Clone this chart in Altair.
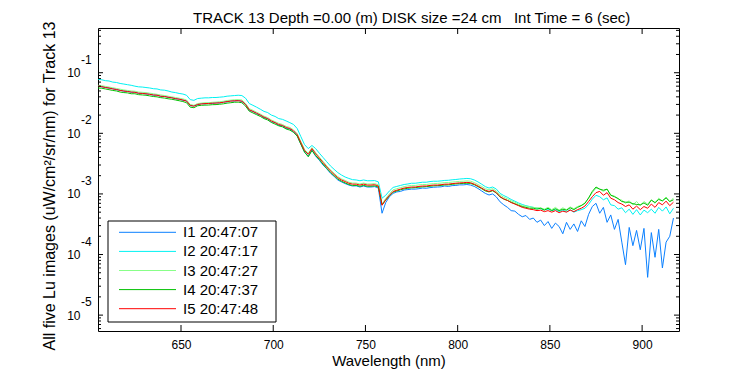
import altair as alt
import pandas as pd

# ---------------- data ----------------
wavelengths = list(range(605, 918, 2))  # nm, 2 nm steps

series_names = ["I1 20:47:07", "I2 20:47:17", "I3 20:47:27", "I4 20:47:37", "I5 20:47:48"]
series_colors = ["#0a80ff", "#00f2f2", "#88ff88", "#00c000", "#ff0000"]

i1 = [6.05e-2, 5.85e-2, 5.75e-2, 5.55e-2, 5.45e-2, 5.25e-2, 5.15e-2, 4.95e-2, 4.95e-2, 4.75e-2,
      4.8e-2, 4.55e-2, 4.6e-2, 4.45e-2, 4.45e-2, 4.25e-2, 4.3e-2, 4.05e-2, 4.1e-2, 3.9e-2,
      3.9e-2, 3.7e-2, 3.7e-2, 3.5e-2, 3.45e-2, 2.85e-2, 2.85e-2, 2.95e-2, 3.1e-2, 3.05e-2,
      3.15e-2, 3.1e-2, 3.2e-2, 3.15e-2, 3.3e-2, 3.3e-2, 3.45e-2, 3.4e-2, 3.5e-2, 3.35e-2,
      3.0e-2, 2.4e-2, 2.3e-2, 2.1e-2, 2.0e-2, 1.8e-2, 1.75e-2, 1.55e-2, 1.5e-2, 1.35e-2,
      1.33e-2, 1.2e-2, 1.18e-2, 1.06e-2, 9.2e-3, 6.6e-3, 4.9e-3, 4.2e-3, 5.3e-3, 4.2e-3,
      3.6e-3, 3.0e-3, 2.6e-3, 2.2e-3, 1.95e-3, 1.7e-3, 1.58e-3, 1.48e-3, 1.4e-3, 1.35e-3,
      1.36e-3, 1.3e-3, 1.35e-3, 1.3e-3, 1.3e-3, 1.32e-3, 1.25e-3, 4.8e-4, 7.2e-4, 9.0e-4,
      1.02e-3, 1.08e-3, 1.1e-3, 1.16e-3, 1.18e-3, 1.2e-3, 1.2e-3, 1.22e-3, 1.25e-3, 1.24e-3,
      1.27e-3, 1.29e-3, 1.3e-3, 1.31e-3, 1.35e-3, 1.33e-3, 1.37e-3, 1.38e-3, 1.41e-3, 1.41e-3,
      1.43e-3, 1.4e-3, 1.33e-3, 1.23e-3, 1.12e-3, 1.02e-3, 9.6e-4, 1.0e-3, 8.9e-4, 7.4e-4,
      6.6e-4, 6.0e-4, 5.3e-4, 5.2e-4, 4.6e-4, 4.2e-4, 4.4e-4, 3.8e-4, 4.0e-4, 3.4e-4,
      3.7e-4, 3.0e-4, 3.5e-4, 2.7e-4, 3.3e-4, 2.9e-4, 2.2e-4, 3.4e-4, 2.6e-4, 3.2e-4,
      2.4e-4, 3.6e-4, 2.9e-4, 4.6e-4, 6.2e-4, 7.0e-4, 4.8e-4, 6.0e-4, 3.4e-4, 4.5e-4,
      2.6e-4, 3.8e-4, 1.6e-4, 6.8e-5, 2.8e-4, 1.4e-4, 2.5e-4, 1.2e-4, 2.7e-4, 4.2e-5,
      2.3e-4, 9.0e-5, 2.6e-4, 6.0e-5, 1.6e-4, 2.0e-4, 4.0e-4]

i2 = [7.8e-2, 7.65e-2, 7.4e-2, 7.3e-2, 7.0e-2, 6.9e-2, 6.65e-2, 6.5e-2, 6.35e-2, 6.2e-2,
      6.0e-2, 5.85e-2, 5.8e-2, 5.7e-2, 5.6e-2, 5.45e-2, 5.4e-2, 5.2e-2, 5.15e-2, 5.0e-2,
      4.8e-2, 4.7e-2, 4.55e-2, 4.45e-2, 4.25e-2, 3.6e-2, 3.5e-2, 3.75e-2, 3.8e-2, 3.85e-2,
      3.85e-2, 3.9e-2, 3.9e-2, 3.95e-2, 4.0e-2, 4.1e-2, 4.15e-2, 4.2e-2, 4.25e-2, 4.2e-2,
      3.8e-2, 3.1e-2, 2.9e-2, 2.7e-2, 2.5e-2, 2.3e-2, 2.2e-2, 2.0e-2, 1.9e-2, 1.75e-2,
      1.7e-2, 1.6e-2, 1.5e-2, 1.4e-2, 1.2e-2, 8.8e-3, 6.5e-3, 5.6e-3, 6.3e-3, 5.6e-3,
      4.7e-3, 4.0e-3, 3.4e-3, 2.9e-3, 2.55e-3, 2.25e-3, 2.05e-3, 1.9e-3, 1.8e-3, 1.72e-3,
      1.7e-3, 1.65e-3, 1.7e-3, 1.65e-3, 1.65e-3, 1.66e-3, 1.58e-3, 8.5e-4, 9.5e-4, 1.12e-3,
      1.28e-3, 1.33e-3, 1.38e-3, 1.43e-3, 1.46e-3, 1.5e-3, 1.5e-3, 1.53e-3, 1.56e-3, 1.56e-3,
      1.6e-3, 1.62e-3, 1.62e-3, 1.64e-3, 1.67e-3, 1.68e-3, 1.71e-3, 1.73e-3, 1.76e-3, 1.78e-3,
      1.8e-3, 1.78e-3, 1.7e-3, 1.58e-3, 1.45e-3, 1.32e-3, 1.25e-3, 1.3e-3, 1.2e-3, 1.02e-3,
      9.4e-4, 8.8e-4, 8.1e-4, 7.6e-4, 7.1e-4, 6.7e-4, 6.4e-4, 6.2e-4, 6.0e-4, 5.8e-4,
      5.7e-4, 5.5e-4, 5.6e-4, 5.3e-4, 5.5e-4, 5.1e-4, 5.4e-4, 5.1e-4, 5.5e-4, 5.0e-4,
      5.3e-4, 5.5e-4, 5.8e-4, 6.7e-4, 8.2e-4, 9.5e-4, 9.0e-4, 8.0e-4, 8.6e-4, 6.6e-4,
      6.4e-4, 5.6e-4, 5.9e-4, 4.9e-4, 5.6e-4, 4.6e-4, 5.5e-4, 4.5e-4, 5.4e-4, 4.9e-4,
      5.6e-4, 4.8e-4, 6.0e-4, 5.2e-4, 6.1e-4, 4.7e-4, 5.8e-4]

i3 = [6.2e-2, 6.1e-2, 5.95e-2, 5.8e-2, 5.65e-2, 5.5e-2, 5.35e-2, 5.2e-2, 5.1e-2, 5.0e-2,
      4.95e-2, 4.8e-2, 4.75e-2, 4.7e-2, 4.6e-2, 4.5e-2, 4.4e-2, 4.3e-2, 4.2e-2, 4.1e-2,
      4.0e-2, 3.9e-2, 3.8e-2, 3.7e-2, 3.55e-2, 3.0e-2, 2.9e-2, 3.1e-2, 3.15e-2, 3.2e-2,
      3.2e-2, 3.25e-2, 3.28e-2, 3.32e-2, 3.38e-2, 3.48e-2, 3.53e-2, 3.58e-2, 3.6e-2, 3.55e-2,
      3.12e-2, 2.55e-2, 2.4e-2, 2.23e-2, 2.08e-2, 1.92e-2, 1.82e-2, 1.66e-2, 1.56e-2, 1.46e-2,
      1.4e-2, 1.3e-2, 1.25e-2, 1.14e-2, 9.9e-3, 7.3e-3, 5.4e-3, 4.7e-3, 5.8e-3, 4.8e-3,
      4.05e-3, 3.45e-3, 2.9e-3, 2.5e-3, 2.2e-3, 1.93e-3, 1.77e-3, 1.67e-3, 1.56e-3, 1.51e-3,
      1.51e-3, 1.46e-3, 1.51e-3, 1.46e-3, 1.46e-3, 1.48e-3, 1.41e-3, 6.8e-4, 8.4e-4, 1.0e-3,
      1.17e-3, 1.22e-3, 1.27e-3, 1.32e-3, 1.36e-3, 1.38e-3, 1.38e-3, 1.41e-3, 1.43e-3, 1.43e-3,
      1.46e-3, 1.48e-3, 1.49e-3, 1.51e-3, 1.54e-3, 1.54e-3, 1.57e-3, 1.59e-3, 1.61e-3, 1.62e-3,
      1.64e-3, 1.62e-3, 1.54e-3, 1.43e-3, 1.33e-3, 1.22e-3, 1.17e-3, 1.22e-3, 1.11e-3, 9.6e-4,
      8.8e-4, 8.3e-4, 7.7e-4, 7.3e-4, 6.8e-4, 6.4e-4, 6.3e-4, 6.1e-4, 6.0e-4, 5.9e-4,
      5.9e-4, 5.6e-4, 6.0e-4, 5.5e-4, 6.0e-4, 5.4e-4, 5.9e-4, 5.5e-4, 6.1e-4, 5.7e-4,
      6.2e-4, 6.5e-4, 7.1e-4, 8.5e-4, 1.05e-3, 1.25e-3, 1.2e-3, 1.1e-3, 1.2e-3, 9.6e-4,
      9.2e-4, 8.2e-4, 7.9e-4, 7.0e-4, 7.7e-4, 6.6e-4, 7.5e-4, 6.4e-4, 7.5e-4, 6.8e-4,
      8.0e-4, 7.0e-4, 8.5e-4, 7.6e-4, 8.9e-4, 7.4e-4, 8.6e-4]

i4 = [5.6e-2, 5.55e-2, 5.4e-2, 5.25e-2, 5.1e-2, 5.0e-2, 4.8e-2, 4.7e-2, 4.65e-2, 4.5e-2,
      4.5e-2, 4.35e-2, 4.3e-2, 4.25e-2, 4.15e-2, 4.05e-2, 4.0e-2, 3.88e-2, 3.82e-2, 3.72e-2,
      3.65e-2, 3.55e-2, 3.45e-2, 3.35e-2, 3.2e-2, 2.7e-2, 2.65e-2, 2.85e-2, 2.9e-2, 2.92e-2,
      2.93e-2, 2.97e-2, 2.98e-2, 3.02e-2, 3.07e-2, 3.15e-2, 3.2e-2, 3.26e-2, 3.27e-2, 3.2e-2,
      2.82e-2, 2.32e-2, 2.17e-2, 2.03e-2, 1.9e-2, 1.75e-2, 1.66e-2, 1.51e-2, 1.42e-2, 1.33e-2,
      1.28e-2, 1.18e-2, 1.13e-2, 1.04e-2, 9.0e-3, 6.6e-3, 4.9e-3, 4.1e-3, 5.2e-3, 4.3e-3,
      3.7e-3, 3.1e-3, 2.65e-3, 2.28e-3, 2.0e-3, 1.76e-3, 1.62e-3, 1.52e-3, 1.43e-3, 1.38e-3,
      1.38e-3, 1.34e-3, 1.38e-3, 1.34e-3, 1.34e-3, 1.36e-3, 1.3e-3, 6.6e-4, 7.9e-4, 9.3e-4,
      1.07e-3, 1.12e-3, 1.17e-3, 1.21e-3, 1.24e-3, 1.26e-3, 1.27e-3, 1.29e-3, 1.31e-3, 1.32e-3,
      1.34e-3, 1.36e-3, 1.37e-3, 1.38e-3, 1.41e-3, 1.41e-3, 1.44e-3, 1.46e-3, 1.48e-3, 1.49e-3,
      1.5e-3, 1.49e-3, 1.42e-3, 1.32e-3, 1.22e-3, 1.12e-3, 1.08e-3, 1.13e-3, 1.03e-3, 8.9e-4,
      8.2e-4, 7.8e-4, 7.3e-4, 6.9e-4, 6.5e-4, 6.2e-4, 6.0e-4, 5.8e-4, 5.8e-4, 5.6e-4,
      5.8e-4, 5.4e-4, 5.8e-4, 5.3e-4, 5.7e-4, 5.3e-4, 5.6e-4, 5.4e-4, 5.9e-4, 5.5e-4,
      6.0e-4, 6.4e-4, 7.0e-4, 8.6e-4, 1.1e-3, 1.3e-3, 1.2e-3, 1.15e-3, 1.2e-3, 9.5e-4,
      9.0e-4, 8.4e-4, 7.5e-4, 7.3e-4, 7.3e-4, 6.9e-4, 6.7e-4, 6.6e-4, 7.1e-4, 6.5e-4,
      7.9e-4, 7.2e-4, 8.1e-4, 7.7e-4, 8.6e-4, 7.5e-4, 8.0e-4]

i5 = [6.0e-2, 5.9e-2, 5.7e-2, 5.6e-2, 5.4e-2, 5.3e-2, 5.1e-2, 5.0e-2, 4.9e-2, 4.8e-2,
      4.75e-2, 4.6e-2, 4.55e-2, 4.5e-2, 4.4e-2, 4.3e-2, 4.25e-2, 4.1e-2, 4.05e-2, 3.95e-2,
      3.85e-2, 3.75e-2, 3.65e-2, 3.55e-2, 3.4e-2, 2.9e-2, 2.8e-2, 3.0e-2, 3.05e-2, 3.1e-2,
      3.1e-2, 3.15e-2, 3.15e-2, 3.2e-2, 3.25e-2, 3.35e-2, 3.4e-2, 3.45e-2, 3.45e-2, 3.4e-2,
      3.0e-2, 2.45e-2, 2.3e-2, 2.15e-2, 2.0e-2, 1.85e-2, 1.75e-2, 1.6e-2, 1.5e-2, 1.4e-2,
      1.35e-2, 1.25e-2, 1.2e-2, 1.1e-2, 9.5e-3, 7.0e-3, 5.2e-3, 4.5e-3, 5.6e-3, 4.6e-3,
      3.9e-3, 3.3e-3, 2.8e-3, 2.4e-3, 2.1e-3, 1.85e-3, 1.7e-3, 1.6e-3, 1.5e-3, 1.45e-3,
      1.45e-3, 1.4e-3, 1.45e-3, 1.4e-3, 1.4e-3, 1.42e-3, 1.35e-3, 6.5e-4, 8.0e-4, 9.5e-4,
      1.1e-3, 1.15e-3, 1.2e-3, 1.25e-3, 1.28e-3, 1.3e-3, 1.3e-3, 1.33e-3, 1.35e-3, 1.35e-3,
      1.38e-3, 1.4e-3, 1.4e-3, 1.42e-3, 1.45e-3, 1.45e-3, 1.48e-3, 1.5e-3, 1.52e-3, 1.53e-3,
      1.55e-3, 1.53e-3, 1.45e-3, 1.35e-3, 1.25e-3, 1.15e-3, 1.1e-3, 1.15e-3, 1.05e-3, 9.0e-4,
      8.3e-4, 7.8e-4, 7.2e-4, 6.8e-4, 6.4e-4, 6.0e-4, 5.8e-4, 5.6e-4, 5.5e-4, 5.3e-4,
      5.4e-4, 5.1e-4, 5.3e-4, 5.0e-4, 5.3e-4, 4.9e-4, 5.2e-4, 5.0e-4, 5.4e-4, 5.1e-4,
      5.5e-4, 5.8e-4, 6.3e-4, 7.5e-4, 9.0e-4, 1.05e-3, 1.1e-3, 9.5e-4, 1.05e-3, 8.5e-4,
      8.0e-4, 7.2e-4, 6.8e-4, 6.2e-4, 6.6e-4, 5.6e-4, 6.3e-4, 5.5e-4, 6.2e-4, 5.8e-4,
      6.8e-4, 6.0e-4, 7.2e-4, 6.6e-4, 7.6e-4, 6.4e-4, 7.3e-4]

series_values = [i1, i2, i3, i4, i5]

x_tick_values = [650, 700, 750, 800, 850, 900]
y_major_values = [1e-5, 1e-4, 1e-3, 1e-2, 1e-1]
y_exponent_labels = ["-5", "-4", "-3", "-2", "-1"]
y_minor_multipliers = [2, 3, 4, 5, 6, 7, 8, 9]

title_text = "TRACK 13 Depth =0.00 (m) DISK size =24 cm\u00a0\u00a0 Int Time = 6 (sec)"
x_title = "Wavelength (nm)"
y_title = "All five Lu images (uW/cm\u00b2/sr/nm) for Track 13"

# ---------------- layout ----------------
W, H = 581, 303
X_DOMAIN = [605, 920]
Y_DOMAIN = [5.47e-6, 0.547]
FONT = "Liberation Sans"

for v in series_values:
    assert len(v) == len(wavelengths), (len(v), len(wavelengths))

y_minor_values = [m * d for d in [1e-6, 1e-5, 1e-4, 1e-3, 1e-2, 1e-1] for m in y_minor_multipliers
                  if Y_DOMAIN[0] <= m * d <= Y_DOMAIN[1]]

xscale = alt.Scale(domain=X_DOMAIN, nice=False, zero=False)
yscale = alt.Scale(type="log", domain=Y_DOMAIN, nice=False)

xaxis = alt.Axis(values=x_tick_values, ticks=False, tickSize=0, domain=False, grid=False,
                 labelPadding=8, labelFontSize=12, labelFont=FONT, labelColor="black",
                 title=x_title, titleFontSize=15, titleFont=FONT, titleFontWeight="normal",
                 titleColor="black", titlePadding=3)
yaxis = alt.Axis(values=y_major_values, ticks=False, tickSize=0, domain=False, grid=False,
                 labelExpr="'10'", labelPadding=18, labelFontSize=12, labelFont=FONT,
                 labelColor="black", title=y_title, titleFontSize=16, titleFont=FONT,
                 titleFontWeight="normal", titleColor="black", titleX=-49, titleY=H / 2 + 6,
                 titleBaseline="middle", titleAngle=-90)


def X(field):
    return alt.X(field, type="quantitative", scale=xscale, axis=xaxis)


def Y(field):
    return alt.Y(field, type="quantitative", scale=yscale, axis=yaxis)


layers = []

# spectra
for name, color, vals in zip(series_names, series_colors, series_values):
    df = pd.DataFrame({"wl": wavelengths, "val": vals, "series": name})
    layers.append(
        alt.Chart(df).mark_line(color=color, strokeWidth=1, clip=True, interpolate="linear")
        .encode(x=X("wl"), y=Y("val"))
    )

# inside ticks on the frame
ymaj = pd.DataFrame({"v": y_major_values})
ymin = pd.DataFrame({"v": y_minor_values})
xt = pd.DataFrame({"w": x_tick_values})
for df, L in [(ymaj, 5), (ymin, 3)]:
    layers.append(alt.Chart(df).mark_rule(color="black", strokeWidth=1)
                  .encode(y=Y("v"), x=alt.value(0), x2=alt.value(L)))
    layers.append(alt.Chart(df).mark_rule(color="black", strokeWidth=1)
                  .encode(y=Y("v"), x=alt.value(W), x2=alt.value(W - L)))
layers.append(alt.Chart(xt).mark_rule(color="black", strokeWidth=1)
              .encode(x=X("w"), y=alt.value(H), y2=alt.value(H - 6)))
layers.append(alt.Chart(xt).mark_rule(color="black", strokeWidth=1)
              .encode(x=X("w"), y=alt.value(0), y2=alt.value(6)))

# exponent part of the y tick labels
exp_df = pd.DataFrame({"v": y_major_values, "e": y_exponent_labels})
layers.append(alt.Chart(exp_df).mark_text(align="left", baseline="middle", dy=-13,
                                          fontSize=12, font=FONT, color="black")
              .encode(y=Y("v"), x=alt.value(-17), text="e:N"))

# title
layers.append(alt.Chart(pd.DataFrame({"t": [title_text]}))
              .mark_text(align="left", baseline="alphabetic", fontSize=15, font=FONT, color="black")
              .encode(x=alt.value(95), y=alt.value(-5), text="t:N"))

# legend box
LX, LY, LW, LH = 10, 193, 168, 101
layers.append(alt.Chart(pd.DataFrame({"a": [0]}))
              .mark_rect(fill="white", stroke="black", strokeWidth=1)
              .encode(x=alt.value(LX), x2=alt.value(LX + LW), y=alt.value(LY), y2=alt.value(LY + LH)))
for k, (name, color) in enumerate(zip(series_names, series_colors)):
    row_y = LY + 11.3 + 19.1 * k
    one = pd.DataFrame({"label": [name]})
    layers.append(alt.Chart(one).mark_rule(color=color, strokeWidth=1)
                  .encode(x=alt.value(LX + 11), x2=alt.value(LX + 68), y=alt.value(row_y)))
    layers.append(alt.Chart(one).mark_text(align="left", baseline="middle", fontSize=15,
                                           font=FONT, color="black")
                  .encode(x=alt.value(LX + 75), y=alt.value(row_y), text="label:N"))

chart = (
    alt.layer(*layers)
    .properties(width=W, height=H,
                autosize=alt.AutoSizeParams(type="none"),
                padding={"left": 90, "top": 20, "right": 60, "bottom": 40},
                background="white")
    .configure_view(stroke="black", strokeWidth=1)
)

chart.save("out.html", embed_options={"renderer": "svg", "actions": False})
